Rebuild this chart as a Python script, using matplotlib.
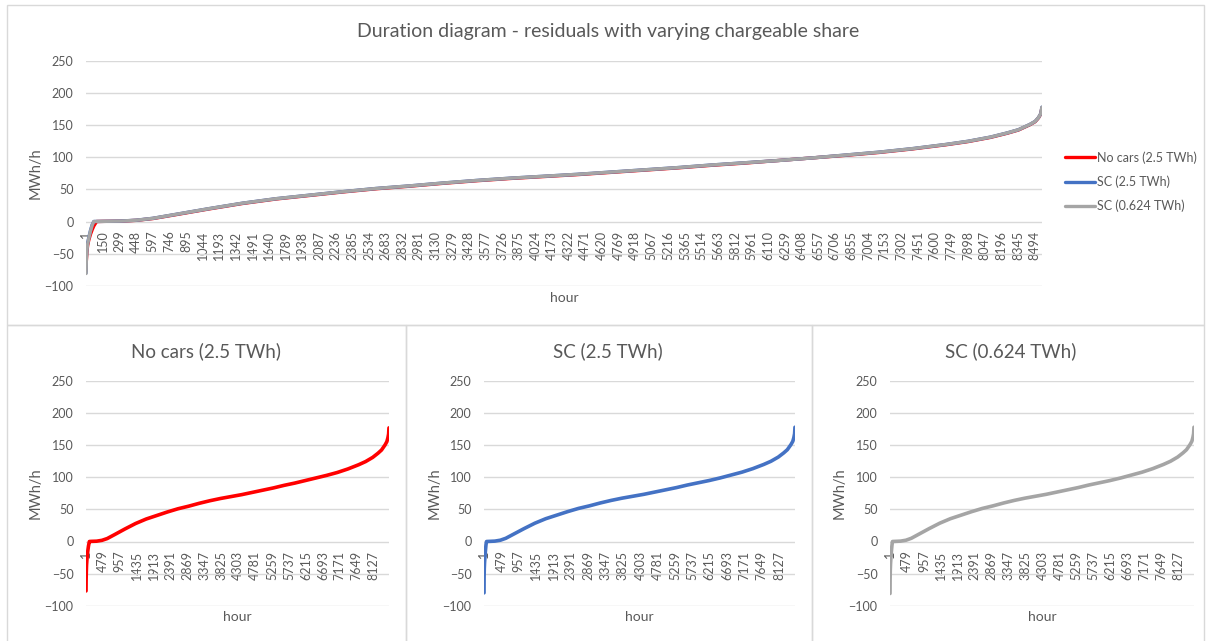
import matplotlib
matplotlib.use("Agg")
import matplotlib.pyplot as plt
from matplotlib.patches import Rectangle

# ---------------- data ----------------
N_HOURS = 8560

red_hours = [1, 3, 8, 15, 25, 40, 55, 70, 95, 150, 300, 450, 600, 800, 1100, 1400,
             1700, 2000, 2300, 2600, 2900, 3200, 3500, 3800, 4100, 4400, 4700, 5000,
             5300, 5600, 5900, 6200, 6500, 6800, 7100, 7400, 7700, 7900, 8100, 8250,
             8350, 8450, 8500, 8530, 8550, 8560]
red_vals = [-77, -62, -48, -37, -29, -20, -13, -7, 0, 0.2, 0.5, 1.8, 4.6, 10.5, 19.5, 28,
            35, 40.5, 46, 51, 55, 59.5, 63.5, 67, 70, 73, 76.5, 80,
            83.5, 87.5, 91, 95, 99, 103, 107.5, 113, 119.5, 124.5, 131, 137.5,
            142.5, 150.5, 155.5, 161.5, 167.5, 177]

blue_hours = [1, 3, 8, 15, 25, 40, 55, 70, 150, 300, 450, 600, 800, 1100, 1400,
              1700, 2000, 2300, 2600, 2900, 3200, 3500, 3800, 4100, 4400, 4700, 5000,
              5300, 5600, 5900, 6200, 6500, 6800, 7100, 7400, 7700, 7900, 8100, 8250,
              8350, 8450, 8500, 8530, 8550, 8560]
blue_vals = [-80, -56, -42, -33, -25, -14, -5, 0, 0.2, 0.6, 2, 5, 11, 20, 28.5,
             35.5, 41, 46.5, 51.5, 55.5, 60, 64, 67.5, 70.5, 73.5, 77, 80.5,
             84, 88, 91.5, 95, 99, 103.5, 108, 113.5, 120, 125, 131.5, 138,
             143, 151, 156, 162, 168, 178]

gray_hours = [1, 3, 8, 15, 25, 40, 55, 70, 150, 300, 450, 600, 800, 1100, 1400,
              1700, 2000, 2300, 2600, 2900, 3200, 3500, 3800, 4100, 4400, 4700, 5000,
              5300, 5600, 5900, 6200, 6500, 6800, 7100, 7400, 7700, 7900, 8100, 8250,
              8350, 8450, 8500, 8530, 8550, 8560]
gray_vals = [-81, -60, -45, -35, -26, -15, -6, 0, 0.2, 0.6, 2, 5, 11, 20, 28.5,
             35.5, 41, 46.5, 51.5, 55.5, 60, 64, 67.5, 70.5, 73.5, 77, 80.5,
             84, 88, 91.5, 95, 99, 103.5, 108, 113.5, 120, 125, 131.5, 138,
             143, 151, 156, 162, 168, 178]

series_names = ["No cars (2.5 TWh)", "SC (2.5 TWh)", "SC (0.624 TWh)"]
series_colors = ["#FF0000", "#4472C4", "#A5A5A5"]

top_ticks = list(range(1, N_HOURS + 1, 149))
bottom_ticks = list(range(1, N_HOURS + 1, 478))
y_ticks = [-100, -50, 0, 50, 100, 150, 200, 250]

main_title = "Duration diagram - residuals with varying chargeable share"
y_label = "MWh/h"
x_label = "hour"

# ---------------- styling ----------------
FONT = ["Lato", "DejaVu Sans"]
plt.rcParams["font.family"] = FONT
TXT = "#595959"
GRID = "#D9D9D9"
W, H = 1209, 641

fig = plt.figure(figsize=(W / 100, H / 100), dpi=100)
fig.patch.set_facecolor("white")


def px_axes(left, right, top, bottom):
    return fig.add_axes([left / W, 1 - bottom / H, (right - left) / W, (bottom - top) / H])


def style(ax, ticks, ylab_x, xlab_y):
    ax.set_xlim(0, N_HOURS + 1)
    ax.set_ylim(-100, 250)
    ax.set_yticks(y_ticks)
    ax.yaxis.grid(True, color=GRID, linewidth=1.0)
    ax.set_axisbelow(True)
    for s in ["top", "right", "left"]:
        ax.spines[s].set_visible(False)
    ax.spines["bottom"].set_position(("data", 0))
    ax.spines["bottom"].set_visible(False)
    ax.set_xticks(ticks)
    ax.set_xticklabels([str(t) for t in ticks], rotation=90)
    ax.tick_params(axis="x", length=0, pad=6.5, labelsize=9, labelcolor=TXT)
    ax.tick_params(axis="y", length=0, pad=9, labelsize=9, labelcolor=TXT)
    ax.set_ylabel(y_label, fontsize=10.5, color=TXT)
    ax.yaxis.set_label_coords(ylab_x, 0.5)
    ax.yaxis.label.set_verticalalignment("center")
    ax.set_xlabel(x_label, fontsize=10, color=TXT)
    ax.xaxis.set_label_coords(0.5, xlab_y)
    ax.xaxis.label.set_verticalalignment("center")


all_series = [(red_hours, red_vals), (blue_hours, blue_vals), (gray_hours, gray_vals)]

# ---------------- top chart ----------------
ax_top = px_axes(86, 1042, 61, 285.7)
handles = []
for (hh, vv), name, col in zip(all_series, series_names, series_colors):
    ln, = ax_top.plot(hh, vv, color=col, linewidth=2.4, solid_capstyle="round", label=name)
    handles.append(ln)
style(ax_top, top_ticks, -0.0523, -0.053)
fig.text(608 / W, 1 - 31 / H, main_title, ha="center", va="center", fontsize=14, color=TXT)

leg = fig.legend(handles=handles, labels=series_names, loc="upper left",
                 bbox_to_anchor=(1065 / W, 1 - 151 / H), frameon=False, borderpad=0,
                 borderaxespad=0, handlelength=2.4, handletextpad=0.15, labelspacing=0.95,
                 fontsize=9)
for t in leg.get_texts():
    t.set_color(TXT)

# ---------------- bottom charts ----------------
panels = [(86, 389, 206, 36), (484, 795, 607.5, 435), (890, 1194, 1011, 840)]
for (left, right, tx, ylx), (hh, vv), name, col in zip(panels, all_series, series_names, series_colors):
    ax = px_axes(left, right, 381, 605.7)
    ax.plot(hh, vv, color=col, linewidth=2.6, solid_capstyle="round")
    style(ax, bottom_ticks, (ylx - left) / (right - left), -0.05)
    fig.text(tx / W, 1 - 351 / H, name, ha="center", va="center", fontsize=13.5, color=TXT)

# ---------------- chart borders ----------------
def border(x0, y0, x1, y1):
    fig.add_artist(Rectangle((x0 / W, 1 - y1 / H), (x1 - x0) / W, (y1 - y0) / H,
                             transform=fig.transFigure, fill=False, edgecolor=GRID,
                             linewidth=1.0))

border(7, 5, 1204, 325)
border(7, 325, 406, 645)
border(406, 325, 812, 645)
border(812, 325, 1204, 645)

fig.savefig("out.png", dpi=100, facecolor="white")
